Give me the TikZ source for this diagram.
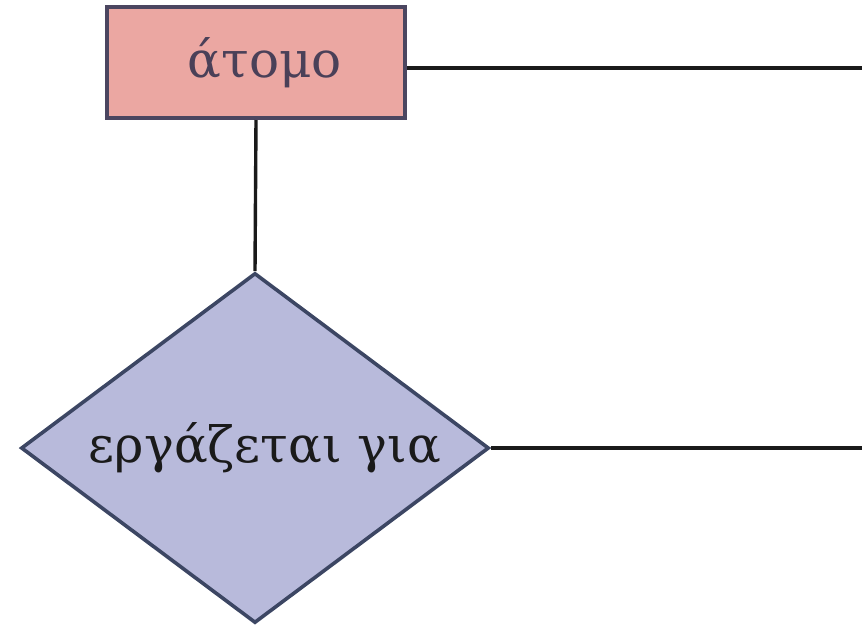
\documentclass[tikz,border=0pt]{standalone}
\usepackage{fontspec}
\setmainfont{DejaVu Serif}
\usetikzlibrary{shapes.geometric}
\definecolor{entity-fill}{HTML}{EBA7A2}
\definecolor{entity-edge}{HTML}{4B4660}
\definecolor{entity-text}{HTML}{4A4058}
\definecolor{rel-fill}{HTML}{B8BADB}
\definecolor{rel-edge}{HTML}{3C4663}
\definecolor{jet}{HTML}{1A1A1A}

\begin{document}
\begin{tikzpicture}[x=1pt, y=-1pt,
        every node/.style={font=\fontsize{50}{56}\selectfont},
        entity/.style={draw=entity-edge, fill=entity-fill, line width=4pt,
            text=entity-text, minimum width=298pt, minimum height=111pt},
        relation/.style={diamond, draw=rel-edge, fill=rel-fill, line width=3.6pt,
            text=jet, inner sep=0pt, aspect=1.33,
            minimum width=468pt, minimum height=350pt},
        link/.style={line width=3.4pt, jet}]
      \useasboundingbox (0,0) rectangle (862,630);
      % entity and relationship (labels sit a little right of centre)
      \node[entity] (atomo) at (256,62.5) {\hspace*{18pt}άτομο};
      \node[relation] (works) at (255,448) {\hspace*{20pt}εργάζεται για};
      % free ends on the right border
      \coordinate (atomo-end) at (862,68);
      \coordinate (works-end) at (862,448);
      % connectors
      \draw[link] (atomo.south) -- (works.north);
      \draw[link] ([yshift=-5.5pt]atomo.east) -- (atomo-end);
      \draw[link] (works.east) -- (works-end);
    \end{tikzpicture}
\end{document}
